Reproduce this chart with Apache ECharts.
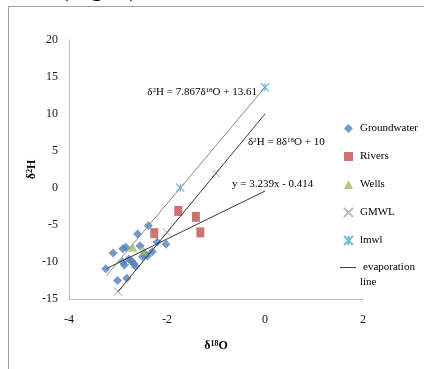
<!DOCTYPE html>
<html>
<head>
<meta charset="utf-8">
<script src="https://cdn.jsdelivr.net/npm/echarts@6/dist/echarts.min.js"></script>
<style>
  html, body { margin: 0; padding: 0; background: #fff; }
  #chart { width: 424px; height: 369px; }
</style>
</head>
<body>
<div id="chart"></div>
<script>
// values (d18O, d2H)
const groundwater = [
  [-3.25, -10.9], [-3.1, -8.8], [-3.01, -12.5], [-2.82, -12.2], [-2.9, -8.2],
  [-2.84, -8.0], [-2.9, -10.0], [-2.87, -10.4], [-2.78, -9.6], [-2.72, -9.9],
  [-2.68, -10.2], [-2.64, -10.6], [-2.6, -6.2], [-2.38, -5.1], [-2.55, -7.8],
  [-2.5, -9.3], [-2.45, -8.9], [-2.4, -9.2], [-2.3, -8.6], [-2.2, -7.3], [-2.02, -7.6]
];
const rivers = [[-2.26, -6.1], [-1.77, -3.1], [-1.41, -3.9], [-1.32, -6.0]];
const wells = [[-2.7, -8.0], [-2.48, -8.5]];
const gmwl = [[-3, -14], [-2, -6], [-1, 2]];
const lmwl = [[-1.73, 0.05], [0, 13.61]];

// line end points
const lmwlLine = [[-3.23, -11.8], [0, 13.61]];
const gmwlLine = [[-3, -14], [0, 10]];
const evapLine = [[-3.23, -10.88], [0, -0.414]];

const xTicks = { min: -4, max: 2, interval: 2 };
const yTicks = { min: -15, max: 20, interval: 5 };

const serif = "'Liberation Serif', 'DejaVu Serif', serif";
const supRich = {
  b: { fontFamily: serif, fontSize: 11, color: '#000' },
  s: { fontFamily: serif, fontSize: 7, color: '#000', verticalAlign: 'top', lineHeight: 8 }
};
const nameRich = {
  b: { fontFamily: serif, fontSize: 12, fontWeight: 'bold', color: '#000' },
  s: { fontFamily: serif, fontSize: 8, fontWeight: 'bold', color: '#000', verticalAlign: 'top', lineHeight: 8 }
};

const chart = echarts.init(document.getElementById('chart'));

chart.setOption({
  animation: false,
  backgroundColor: '#fff',
  grid: { left: 69, top: 40, width: 294, height: 259 },
  xAxis: {
    type: 'value',
    min: xTicks.min, max: xTicks.max, interval: xTicks.interval,
    name: '{b|δ}{s|18}{b|O}',
    nameLocation: 'middle',
    nameGap: 41,
    nameMoveOverlap: false,
    nameTextStyle: { rich: nameRich },
    splitLine: { show: false },
    axisTick: { show: false },
    axisLine: { onZero: false, lineStyle: { color: '#bfbfbf', width: 1 } },
    axisLabel: { margin: 15, fontFamily: serif, fontSize: 12, color: '#111' }
  },
  yAxis: {
    type: 'value',
    min: yTicks.min, max: yTicks.max, interval: yTicks.interval,
    name: '{b|δ}{s|2}{b|H}',
    nameLocation: 'middle',
    nameGap: 31,
    nameMoveOverlap: false,
    nameTextStyle: { rich: nameRich },
    splitLine: { show: false },
    axisTick: { show: false },
    axisLine: { show: true, onZero: false, lineStyle: { color: '#bfbfbf', width: 1 } },
    axisLabel: { margin: 11, fontFamily: serif, fontSize: 12, color: '#111' }
  },
  legend: [
    {
      orient: 'vertical',
      left: 343, top: 123, padding: 0,
      itemWidth: 9, itemHeight: 9, itemGap: 17,
      data: ['Groundwater', 'Rivers', 'Wells', 'GMWL', 'lmwl'],
      textStyle: { fontFamily: serif, fontSize: 11, color: '#000', padding: [0, 0, 0, 2] },
      selectedMode: false
    },
    {
      orient: 'vertical',
      left: 340, top: 262, padding: 0,
      itemWidth: 16, itemHeight: 1,
      data: [{ name: 'evaporation line', icon: 'rect' }],
      formatter: () => 'evaporation',
      textStyle: { fontFamily: serif, fontSize: 11, color: '#000', padding: [0, 0, 0, 2] },
      selectedMode: false
    }
  ],
  series: [
    {
      name: 'Groundwater', type: 'scatter', data: groundwater,
      symbol: 'diamond', symbolSize: 9,
      itemStyle: { color: '#4F81BD' }
    },
    {
      name: 'Rivers', type: 'scatter', data: rivers,
      symbol: 'rect', symbolSize: [8, 10],
      itemStyle: { color: '#C0504D' }
    },
    {
      name: 'Wells', type: 'scatter', data: wells,
      symbol: 'triangle', symbolSize: 9,
      itemStyle: { color: '#9BBB59' }
    },
    {
      name: 'GMWL', type: 'scatter', data: gmwl,
      symbol: 'path://M0,0L10,10M10,0L0,10', symbolSize: 8,
      itemStyle: { color: 'transparent', borderColor: '#B3A2C7', borderWidth: 1.2 }
    },
    {
      name: 'lmwl', type: 'scatter', data: lmwl,
      symbol: 'path://M0,0L10,10M10,0L0,10M5,0L5,10', symbolSize: 8,
      itemStyle: { color: 'transparent', borderColor: '#4BACC6', borderWidth: 1.2 }
    },
    {
      name: 'lmwl line', type: 'line', data: lmwlLine,
      symbol: 'none', lineStyle: { color: '#8a8a8a', width: 1 }, z: 3
    },
    {
      name: 'GMWL line', type: 'line', data: gmwlLine,
      symbol: 'none', lineStyle: { color: '#3a3a3a', width: 1 }, z: 3
    },
    {
      name: 'evaporation line', type: 'line', data: evapLine,
      symbol: 'none', showSymbol: false, itemStyle: { color: '#3a3a3a' },
      lineStyle: { color: '#3a3a3a', width: 1 }, z: 3
    }
  ],
  graphic: [
    {
      type: 'rect', silent: true,
      shape: { x: 8.5, y: 6.5, width: 600, height: 600 },
      style: { fill: 'none', stroke: '#a0a0a0', lineWidth: 1 }
    },
    {
      type: 'text', left: 0, top: -24, silent: true,
      style: { text: 'sheet (Fig. 4).', font: "26px 'Liberation Serif'", fill: '#000' }
    },
    {
      type: 'text', x: 257, y: 92, silent: true,
      style: {
        text: '{b|δ}{s|2}{b|H = 7.867δ}{s|18}{b|O + 13.61}',
        rich: supRich, align: 'right', verticalAlign: 'middle'
      }
    },
    {
      type: 'text', x: 248, y: 142, silent: true,
      style: {
        text: '{b|δ}{s|2}{b|H = 8δ}{s|18}{b|O + 10}',
        rich: supRich, align: 'left', verticalAlign: 'middle'
      }
    },
    {
      type: 'text', x: 232, y: 184, silent: true,
      style: {
        text: 'y = 3.239x - 0.414',
        font: "11px 'Liberation Serif'", fill: '#000', align: 'left', verticalAlign: 'middle'
      }
    },
    {
      type: 'text', x: 360, y: 282, silent: true,
      style: {
        text: 'line',
        font: "11px 'Liberation Serif'", fill: '#000', align: 'left', verticalAlign: 'middle'
      }
    }
  ]
});
</script>
</body>
</html>
